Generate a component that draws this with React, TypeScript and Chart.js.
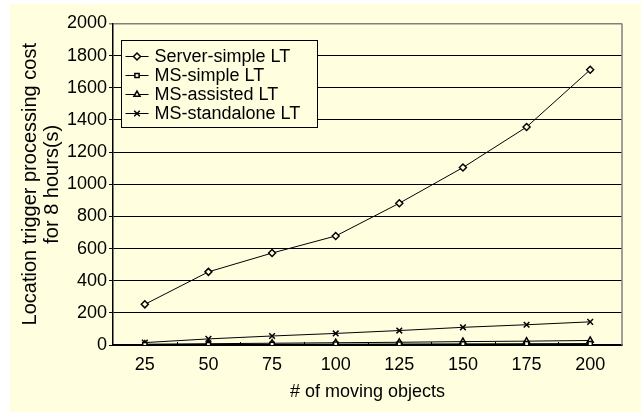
import React, { useEffect, useRef } from 'react';
import { Chart, registerables } from 'chart.js';
import { drawPoint } from 'chart.js/helpers';

Chart.register(...registerables);

const categories = ['25', '50', '75', '100', '125', '150', '175', '200'];
const serverSimple = [253, 455, 572, 678, 882, 1104, 1356, 1712];
const msSimple = [2, 3, 4, 5, 6, 7, 8, 9];
const msAssisted = [5, 8, 11, 14, 17, 21, 24, 28];
const msStandalone = [15, 38, 56, 72, 90, 110, 126, 144];
const seriesNames = ['Server-simple LT', 'MS-simple LT', 'MS-assisted LT', 'MS-standalone LT'];
const yMin = 0;
const yMax = 2000;
const yStep = 200;
const xTitle = '# of moving objects';
const yTitle = ['Location trigger processing cost', 'for 8 hours(s)'];

const BG = '#FFFFE0';
const FONT = "'Liberation Sans', Arial, sans-serif";

const boxLegend = {
  id: 'boxLegend',
  afterDatasetsDraw(chart: any) {
    const { ctx, chartArea } = chart;
    const x0 = Math.round(chartArea.left + 8) + 0.5;
    const y0 = Math.round(chartArea.top + 16) + 0.5;
    const w = 196;
    const h = 87;
    ctx.save();
    ctx.fillStyle = BG;
    ctx.fillRect(x0, y0, w, h);
    ctx.strokeStyle = '#000';
    ctx.lineWidth = 1;
    ctx.strokeRect(x0, y0, w, h);
    ctx.font = `18px ${FONT}`;
    ctx.textBaseline = 'middle';
    ctx.textAlign = 'left';
    chart.data.datasets.forEach((ds: any, i: number) => {
      const cy = Math.round(y0 + 15 + i * 19.2) + 0.5;
      ctx.strokeStyle = '#000';
      ctx.lineWidth = 1;
      ctx.beginPath();
      ctx.moveTo(x0 + 4, cy);
      ctx.lineTo(x0 + 27, cy);
      ctx.stroke();
      ctx.fillStyle = BG;
      ctx.strokeStyle = '#000';
      ctx.lineWidth = ds.pointBorderWidth;
      drawPoint(ctx, { pointStyle: ds.pointStyle, radius: ds.pointRadius, borderWidth: ds.pointBorderWidth, rotation: 0 } as any, x0 + 15.5, cy);
      ctx.fillStyle = '#000';
      ctx.fillText(ds.label, x0 + 33, cy + 1);
    });
    ctx.restore();
  },
};

const frame = {
  id: 'frame',
  afterDraw(chart: any) {
    const { ctx, chartArea } = chart;
    const xs = chart.scales.x;
    ctx.save();
    ctx.strokeStyle = '#808080';
    ctx.lineWidth = 1.5;
    ctx.beginPath();
    ctx.moveTo(chartArea.right, chartArea.top);
    ctx.lineTo(chartArea.right, chartArea.bottom);
    ctx.stroke();
    ctx.strokeStyle = '#000';
    ctx.lineWidth = 1;
    for (let i = 1; i < categories.length; i++) {
      const px = Math.round(xs.getPixelForValue(i - 0.5)) + 0.5;
      ctx.beginPath();
      ctx.moveTo(px, chartArea.bottom - 3);
      ctx.lineTo(px, chartArea.bottom + 1);
      ctx.stroke();
    }
    ctx.restore();
  },
};

function makeDataset(label: string, data: number[], pointStyle: string, radius: number) {
  return {
    label,
    data,
    borderColor: '#000',
    borderWidth: 1,
    pointStyle,
    pointRadius: radius,
    pointHoverRadius: radius,
    pointBorderColor: '#000',
    pointBackgroundColor: BG,
    pointBorderWidth: 1.5,
    tension: 0,
    fill: false,
  };
}

export default function App() {
  const ref = useRef<HTMLCanvasElement | null>(null);
  useEffect(() => {
    if (!ref.current) return;
    const chart = new Chart(ref.current, {
      type: 'line',
      data: {
        labels: categories,
        datasets: [
          makeDataset(seriesNames[0], serverSimple, 'rectRot', 3.5),
          makeDataset(seriesNames[1], msSimple, 'rect', 3),
          makeDataset(seriesNames[2], msAssisted, 'triangle', 3.5),
          makeDataset(seriesNames[3], msStandalone, 'crossRot', 4),
        ],
      },
      options: {
        animation: false,
        responsive: false,
        devicePixelRatio: 1,
        layout: { padding: { top: 19.5, right: 19, bottom: 0, left: 0 } },
        plugins: {
          legend: { display: false },
          tooltip: { enabled: false },
        },
        scales: {
          x: {
            type: 'category',
            offset: true,
            grid: { display: true, drawOnChartArea: false, drawTicks: false, offset: true, color: '#000' },
            border: { display: true, color: '#000', width: 1.5 },
            ticks: { color: '#000', font: { family: FONT, size: 18 }, padding: 9, maxRotation: 0 },
            title: { display: true, text: xTitle, color: '#000', font: { family: FONT, size: 18 }, padding: { top: 0, bottom: 9 } },
            afterFit: (s: any) => { s.height = 67; },
          },
          y: {
            min: yMin,
            max: yMax,
            ticks: { stepSize: yStep, color: '#000', font: { family: FONT, size: 18 }, padding: 2, callback: (v: any) => String(v) },
            grid: {
              color: (c: any) => (c.tick && c.tick.value === yMax ? '#808080' : '#000'),
              lineWidth: (c: any) => (c.tick && c.tick.value === yMax ? 1.5 : 1),
              tickLength: 4,
            },
            border: { display: true, color: '#000', width: 1.5 },
            title: { display: true, text: yTitle, color: '#000', font: { family: FONT, size: 20, lineHeight: 1.1 }, padding: { top: 9, bottom: 0 } },
            afterFit: (s: any) => { s.width = 103; },
          },
        },
      },
      plugins: [boxLegend, frame],
    } as any);
    return () => chart.destroy();
  }, []);
  return (
    <div style={{ position: 'fixed', left: 0, top: 0, width: 641, height: 412, background: '#fff' }}>
      <div style={{ position: 'absolute', left: 10, top: 4, width: 631, height: 408, background: BG }}>
        <canvas ref={ref} width={631} height={408} style={{ width: 631, height: 408, display: 'block' }} />
      </div>
    </div>
  );
}
